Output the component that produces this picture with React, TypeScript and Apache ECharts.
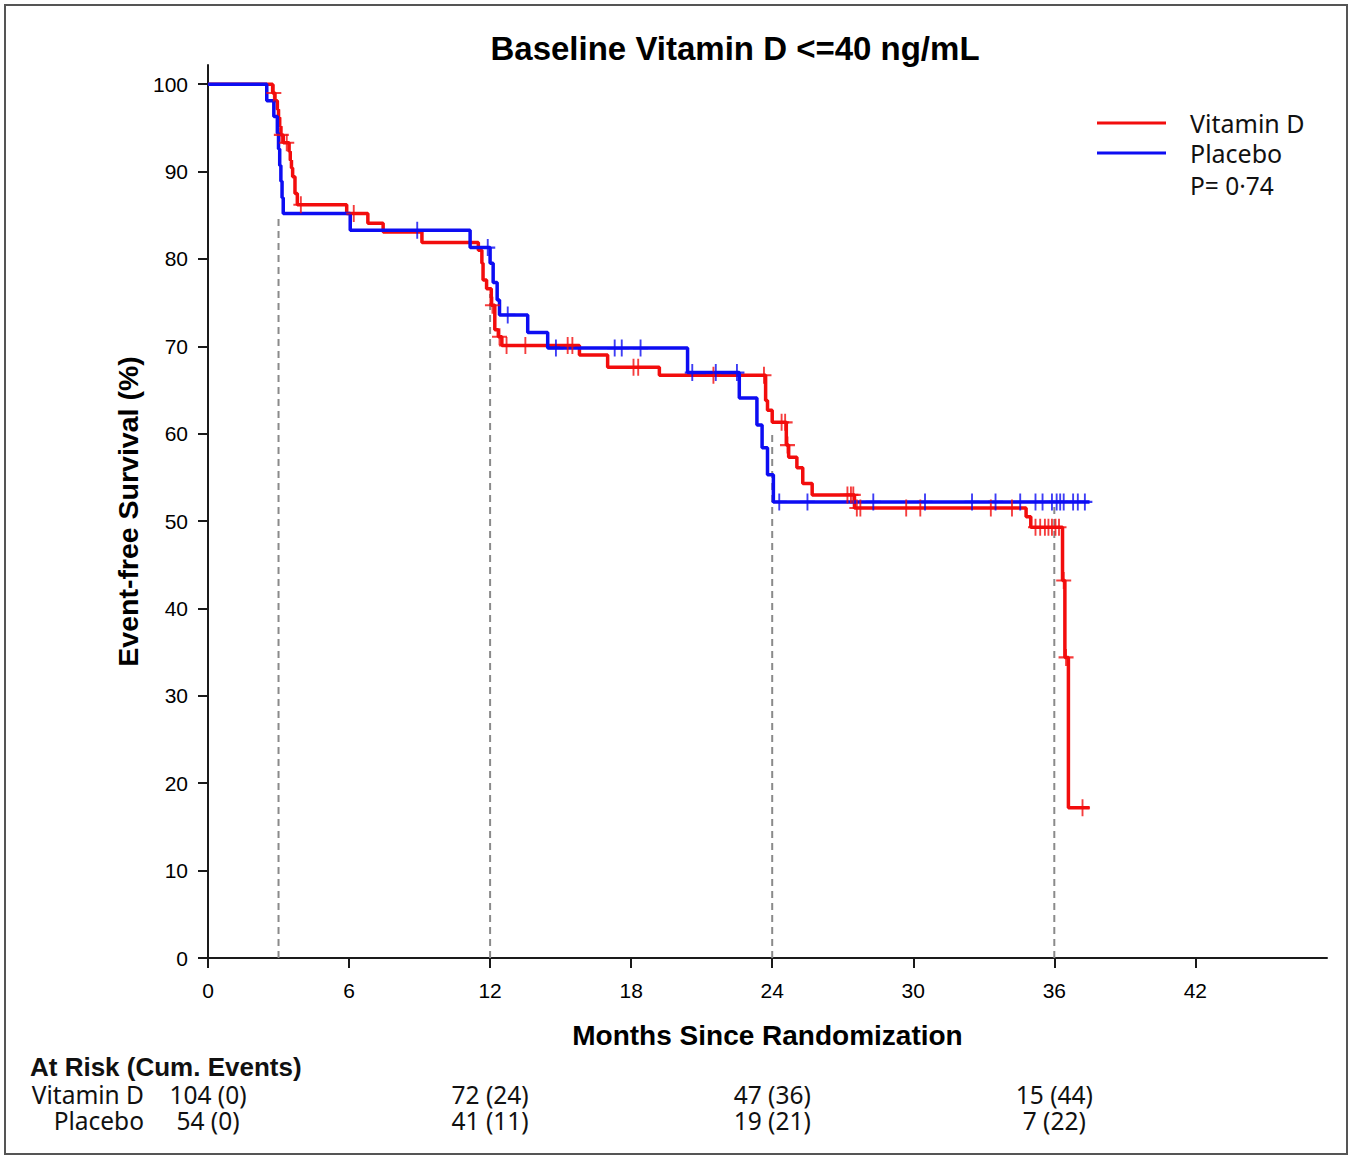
import React, { useEffect, useRef } from "react";
import * as echarts from "echarts";

// Axis ticks
const monthTicks = [0, 6, 12, 18, 24, 30, 36, 42];
const survivalTicks = [0, 10, 20, 30, 40, 50, 60, 70, 80, 90, 100];

// Vitamin D arm: event times (months) and survival (%) after each drop
const vitDEventTimes = [
  2.75, 2.85, 2.95, 3.0, 3.05, 3.1, 3.2, 3.45, 3.5, 3.55, 3.6, 3.7, 3.8, 5.9, 6.8, 7.45,
  9.1, 11.5, 11.65, 11.7, 11.85, 12.05, 12.2, 12.35, 12.5, 15.8, 17.0, 19.2, 23.72, 23.8,
  24.0, 24.6, 24.7, 25.05, 25.3, 25.7, 27.5, 34.8, 35.0, 36.35, 36.45, 36.6,
];
const vitDSurvival = [
  99.0, 98.1, 97.1, 96.2, 95.2, 94.2, 93.3, 92.3, 91.3, 90.4, 89.4, 87.5, 86.2, 85.2, 84.1, 83.1,
  81.9, 81.0, 79.5, 77.6, 76.6, 74.7, 71.9, 71.1, 70.1, 69.0, 67.6, 66.7, 63.8, 62.7,
  61.3, 58.7, 57.3, 56.1, 54.3, 53.0, 51.5, 50.5, 49.3, 43.2, 34.4, 17.2,
];
const vitDCensorTimes = [
  2.8, 3.12, 3.35, 3.95, 6.2, 12.1, 12.4, 12.7, 13.5, 15.3, 15.5, 18.1, 18.3, 21.5, 23.65,
  24.4, 24.55, 24.65, 27.2, 27.35, 27.45, 27.6, 27.75, 29.7, 30.3, 33.3, 34.2, 35.2, 35.4,
  35.6, 35.75, 35.9, 36.05, 36.2, 36.4, 36.5, 37.2,
];
const vitDLastFollowUp = 37.5;

// Placebo arm
const placeboEventTimes = [
  2.5, 2.8, 2.95, 3.0, 3.05, 3.1, 3.15, 3.2, 6.05, 11.15, 12.0, 12.13, 12.3, 12.4, 13.6,
  14.45, 20.4, 22.6, 23.35, 23.57, 23.8, 24.05,
];
const placeboSurvival = [
  98.1, 96.3, 94.4, 92.6, 90.7, 88.9, 87.0, 85.2, 83.3, 81.3, 79.5, 77.3, 75.3, 73.6, 71.6,
  69.8, 67.0, 64.1, 61.0, 58.4, 55.3, 52.2,
];
const placeboCensorTimes = [
  8.9, 11.9, 12.75, 14.8, 17.3, 17.6, 18.4, 20.6, 21.6, 22.5, 24.3, 25.5, 28.3, 30.5, 32.5,
  33.5, 34.55, 35.2, 35.5, 35.9, 36.1, 36.25, 36.4, 36.8, 37.0, 37.3,
];
const placeboLastFollowUp = 37.5;

// Landmark reference lines (month, height in %)
const landmarkMonths = [3, 12, 24, 36];
const landmarkHeights = [85, 76, 60, 52];

// Number at risk table
const atRiskMonths = [0, 12, 24, 36];
const atRiskVitD = ["104 (0)", "72 (24)", "47 (36)", "15 (44)"];
const atRiskPlacebo = ["54 (0)", "41 (11)", "19 (21)", "7 (22)"];

const RED = "#f20d0d";
const BLUE = "#0d0df2";
const AXIS_FONT = "Liberation Sans, Arial, sans-serif";
const TABLE_FONT = "Noto Sans, sans-serif";

function stepData(times: number[], surv: number[], end: number) {
  const pts: number[][] = [[0, 100]];
  times.forEach((t, i) => pts.push([t, surv[i]]));
  pts.push([end, surv[surv.length - 1]]);
  return pts;
}

function survivalAt(times: number[], surv: number[], t: number) {
  let s = 100;
  for (let i = 0; i < times.length; i++) {
    if (times[i] <= t) s = surv[i];
  }
  return s;
}

const CENSOR_SYMBOL = "path://M7,0 L7,16 M0,8 L14,8";

export default function App() {
  const ref = useRef<HTMLDivElement>(null);

  useEffect(() => {
    if (!ref.current) return;
    const chart = echarts.init(ref.current, null, { renderer: "svg" });

    const option: any = {
      animation: false,
      backgroundColor: "#ffffff",
      title: {
        text: "Baseline Vitamin D <=40 ng/mL",
        left: 730,
        top: 27,
        textAlign: "center",
        textStyle: { fontFamily: AXIS_FONT, fontWeight: "bold", fontSize: 33, color: "#000" },
      },
      legend: {
        orient: "vertical",
        left: 1092,
        top: 103,
        itemWidth: 69,
        itemHeight: 3,
        itemGap: 0,
        icon: "rect",
        data: ["Vitamin D", "Placebo"],
        textStyle: {
          fontFamily: TABLE_FONT,
          fontSize: 25,
          color: "#111",
          lineHeight: 30,
          padding: [0, 0, 0, 19],
        },
      },
      grid: { left: 208, top: 65, width: 1119, height: 893, containLabel: false },
      xAxis: {
        type: "value",
        min: 0,
        max: 47.6,
        name: "Months Since Randomization",
        nameLocation: "middle",
        nameGap: 63,
        nameTextStyle: { fontFamily: AXIS_FONT, fontWeight: "bold", fontSize: 28, color: "#000" },
        axisLine: { lineStyle: { color: "#1a1a1a", width: 2 } },
        axisTick: { show: true, length: 10, lineStyle: { color: "#1a1a1a", width: 2 }, customValues: monthTicks },
        axisLabel: { margin: 22, fontFamily: AXIS_FONT, fontSize: 21, color: "#000", customValues: monthTicks },
        splitLine: { show: false },
      },
      yAxis: {
        type: "value",
        min: 0,
        max: 102.2,
        name: "Event-free Survival (%)",
        nameLocation: "middle",
        nameGap: 66,
        nameTextStyle: { fontFamily: AXIS_FONT, fontWeight: "bold", fontSize: 28.5, color: "#000" },
        axisLine: { show: true, lineStyle: { color: "#1a1a1a", width: 2 } },
        axisTick: { show: true, length: 10, lineStyle: { color: "#1a1a1a", width: 2 }, customValues: survivalTicks },
        axisLabel: { margin: 20, fontFamily: AXIS_FONT, fontSize: 21, color: "#000", customValues: survivalTicks },
        splitLine: { show: false },
      },
      series: [
        ...landmarkMonths.map((m, i) => ({
          type: "line",
          name: "landmark-" + m,
          data: [
            [m, 0],
            [m, landmarkHeights[i]],
          ],
          symbol: "none",
          silent: true,
          z: 1,
          lineStyle: { color: "#8a8a8a", width: 2, type: [7, 5] },
        })),
        {
          type: "line",
          name: "Vitamin D",
          step: "end",
          symbol: "none",
          data: stepData(vitDEventTimes, vitDSurvival, vitDLastFollowUp),
          itemStyle: { color: RED },
          lineStyle: { color: RED, width: 3.5 },
          z: 3,
        },
        {
          type: "line",
          name: "Placebo",
          step: "end",
          symbol: "none",
          data: stepData(placeboEventTimes, placeboSurvival, placeboLastFollowUp),
          itemStyle: { color: BLUE },
          lineStyle: { color: BLUE, width: 3.5 },
          z: 4,
        },
        {
          type: "scatter",
          name: "Vitamin D censored",
          symbol: CENSOR_SYMBOL,
          symbolSize: [15, 17],
          data: vitDCensorTimes.map((t) => [t, survivalAt(vitDEventTimes, vitDSurvival, t)]),
          itemStyle: { color: "none", borderColor: RED, borderWidth: 2 },
          z: 5,
        },
        {
          type: "scatter",
          name: "Placebo censored",
          symbol: CENSOR_SYMBOL,
          symbolSize: [15, 17],
          data: placeboCensorTimes.map((t) => [t, survivalAt(placeboEventTimes, placeboSurvival, t)]),
          itemStyle: { color: "none", borderColor: BLUE, borderWidth: 2 },
          z: 6,
        },
      ],
    };

    chart.setOption(option);

    const xs = atRiskMonths.map((m) => chart.convertToPixel({ xAxisIndex: 0 }, m) as number);
    const tableText = (text: string, x: number, y: number, align: string, bold = false) => ({
      type: "text",
      x,
      y,
      style: {
        text,
        fontFamily: bold ? AXIS_FONT : TABLE_FONT,
        fontWeight: bold ? "bold" : "normal",
        fontSize: bold ? 26 : 24.5,
        lineHeight: 24,
        fill: "#111",
        align,
        verticalAlign: "middle",
      },
    });

    const graphics: any[] = [
      {
        type: "rect",
        shape: { x: 5, y: 5, width: 1342, height: 1149 },
        style: { fill: "none", stroke: "#555", lineWidth: 2 },
        silent: true,
        z: 0,
      },
      tableText("P= 0·74", 1190, 185, "left"),
      tableText("At Risk (Cum. Events)", 30, 1067, "left", true),
      tableText("Vitamin D", 144, 1094, "right"),
      tableText("Placebo", 144, 1120, "right"),
      ...atRiskVitD.map((s, i) => tableText(s, xs[i], 1094, "center")),
      ...atRiskPlacebo.map((s, i) => tableText(s, xs[i], 1120, "center")),
    ];
    chart.setOption({ graphic: graphics });

    return () => {
      chart.dispose();
    };
  }, []);

  return (
    <div
      ref={ref}
      style={{ position: "fixed", left: 0, top: 0, width: 1351, height: 1156, background: "#fff" }}
    />
  );
}
